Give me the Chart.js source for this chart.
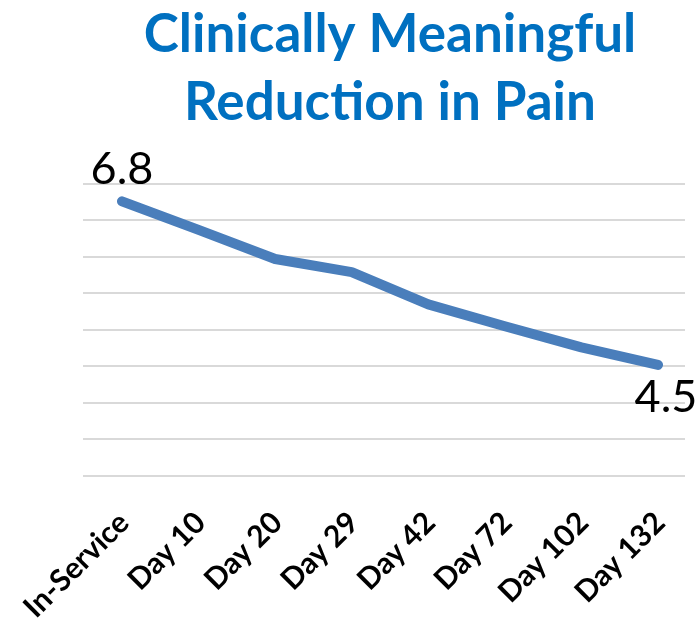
<!DOCTYPE html>
<html>
<head>
<meta charset="utf-8">
<title>Clinically Meaningful Reduction in Pain</title>
<script src="https://cdn.jsdelivr.net/npm/chart.js@4.4.1/dist/chart.umd.min.js"></script>
<style>
  html, body { margin: 0; padding: 0; background: #fff; }
  canvas { display: block; }
</style>
</head>
<body>
<canvas id="chart" width="697" height="624"></canvas>
<script>
const visits = ['In-Service', 'Day 10', 'Day 20', 'Day 29', 'Day 42', 'Day 72', 'Day 102', 'Day 132'];
const painScores = [6.76, 6.37, 5.97, 5.79, 5.35, 5.05, 4.76, 4.52];
const titleLines = ['Clinically Meaningful', 'Reduction in Pain'];
const yMin = 3;
const yMax = 7;
const yStep = 0.5;

// gridlines run a bit past the first and last point, like the original
const wideGrid = {
  id: 'wideGrid',
  beforeDatasetsDraw(chart) {
    const { ctx, chartArea, scales } = chart;
    ctx.save();
    ctx.strokeStyle = '#d9d9d9';
    ctx.lineWidth = 2;
    scales.y.ticks.forEach(t => {
      const y = Math.round(scales.y.getPixelForValue(t.value));
      ctx.beginPath();
      ctx.moveTo(chartArea.left - 39, y);
      ctx.lineTo(chartArea.right + 27, y);
      ctx.stroke();
    });
    ctx.restore();
  }
};

// value labels on first and last point only
const endLabels = {
  id: 'endLabels',
  afterDatasetsDraw(chart) {
    const { ctx } = chart;
    const pts = chart.getDatasetMeta(0).data;
    const first = pts[0];
    const last = pts[pts.length - 1];
    ctx.save();
    ctx.font = '45px Lato';
    ctx.fillStyle = '#000';
    ctx.textAlign = 'center';
    ctx.textBaseline = 'alphabetic';
    ctx.fillText(painScores[0].toFixed(1), first.x, first.y - 17);
    ctx.fillText(painScores[painScores.length - 1].toFixed(1), last.x + 8, last.y + 47);
    ctx.restore();
  }
};

const ctx = document.getElementById('chart').getContext('2d');
new Chart(ctx, {
  type: 'line',
  data: {
    labels: visits,
    datasets: [{
      label: 'Pain',
      data: painScores,
      borderColor: '#4a7ebb',
      borderWidth: 10,
      borderCapStyle: 'round',
      borderJoinStyle: 'round',
      pointRadius: 0,
      tension: 0,
      fill: false
    }]
  },
  options: {
    responsive: false,
    animation: false,
    layout: { autoPadding: false, padding: { left: 122, right: 39, top: 0, bottom: 0 } },
    plugins: {
      legend: { display: false },
      tooltip: { enabled: false },
      title: {
        display: true,
        text: titleLines,
        fullSize: false,
        color: '#0070c0',
        font: { family: 'Lato', size: 53, weight: 'bold', lineHeight: 1.3 },
        padding: { top: 0, bottom: 46 }
      }
    },
    scales: {
      x: {
        offset: false,
        grid: { display: false, drawTicks: false },
        border: { display: false },
        ticks: {
          autoSkip: false,
          maxRotation: 45,
          minRotation: 45,
          padding: 29,
          labelOffset: 2,
          color: '#000',
          font: { family: 'Lato', size: 30, weight: 'bold' }
        },
        afterFit(scale) {
          // fixed axis band under the plot, no extra side padding
          scale.height = 148;
          scale.paddingLeft = 0;
          scale.paddingRight = 0;
        }
      },
      y: {
        display: false,
        min: yMin,
        max: yMax,
        ticks: { stepSize: yStep }
      }
    }
  },
  plugins: [wideGrid, endLabels]
});
</script>
</body>
</html>
